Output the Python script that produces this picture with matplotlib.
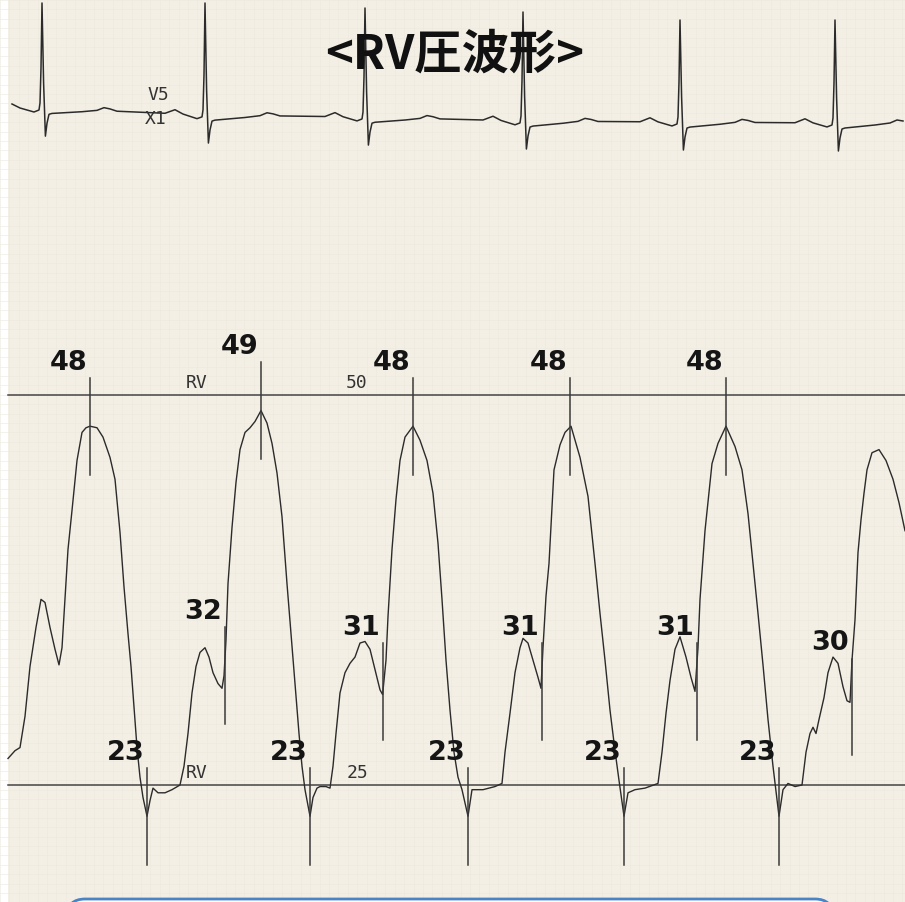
import numpy as np
import matplotlib.pyplot as plt
from matplotlib.patches import Rectangle, FancyBboxPatch
from matplotlib.ticker import MultipleLocator

# RV pressure tracing (time in ms, pressure in mmHg)
rv_t_ms = [40, 75, 100, 125, 150, 180, 205, 225, 250, 275, 295, 310, 325, 340, 360, 385, 410, 430, 450, 485,
           515, 550, 575, 600, 620, 640, 655, 670, 685, 700, 715, 735, 750, 765,
           790, 825, 860, 900, 920, 940, 960, 980, 1000, 1025, 1045, 1065, 1090, 1110, 1120, 1130, 1140, 1160,
           1180, 1200, 1225, 1250, 1275, 1305, 1335, 1360, 1385, 1410, 1435, 1455, 1475, 1495, 1510, 1525,
           1550, 1565, 1585,
           1600, 1630, 1650, 1665, 1680, 1700, 1725, 1750, 1775, 1800, 1825, 1850, 1875, 1900, 1913, 1930,
           1940, 1960, 1980, 2000, 2025, 2065, 2100, 2135, 2165, 2190, 2210, 2230, 2250, 2270, 2290, 2310, 2340,
           2360, 2415, 2475, 2510, 2525, 2550, 2575, 2600, 2615, 2640, 2665, 2690, 2705, 2715, 2730, 2745,
           2770, 2800, 2825, 2855, 2900, 2940, 2975, 3000, 3025, 3050, 3075, 3095, 3120,
           3140, 3175, 3225, 3290, 3310, 3330, 3350, 3375, 3400, 3430, 3455, 3475, 3490, 3500, 3525, 3560,
           3590, 3630, 3675, 3710, 3740, 3765, 3790, 3815, 3840, 3865, 3895,
           3915, 3940, 3975, 4010, 4030, 4050, 4065, 4080, 4095, 4120, 4140, 4165, 4190, 4215, 4235, 4250,
           4260, 4275, 4290, 4305, 4320, 4335, 4360, 4395, 4430, 4465, 4495, 4525]
rv_mmhg = [26.7, 27.2, 27.4, 29.4, 32.6, 35.1, 36.9, 36.7, 35.1, 33.7, 32.7, 33.8, 36.9, 40.1, 42.6, 45.8,
           47.6, 47.9, 48.0, 47.9, 47.3, 46.0, 44.6, 41.2, 37.7, 34.7, 32.6, 30.0, 27.4, 25.5, 24.2, 23.0, 24.0, 24.8,
           24.5, 24.5, 24.7, 25.0, 26.2, 28.3, 30.9, 32.6, 33.5, 33.8, 33.2, 32.2, 31.5, 31.2, 32.0, 34.3, 37.9,
           41.5, 44.4, 46.5, 47.6, 47.9, 48.3, 49.0, 48.2, 46.9, 45.0, 42.2, 37.9, 34.7, 31.5, 28.3, 26.2, 24.7,
           23.0, 24.2, 24.8,
           24.9, 24.9, 24.8, 26.2, 28.3, 30.9, 32.2, 32.8, 33.2, 34.1, 34.2, 33.7, 32.4, 31.1, 30.8, 33.0,
           35.8, 40.1, 43.3, 45.8, 47.3, 48.0, 47.1, 45.8, 43.7, 40.5, 36.9, 33.0, 29.8, 27.1, 25.5, 24.7, 23.0,
           24.7, 24.7, 24.9, 25.1, 27.1, 29.6, 32.2, 33.8, 34.4, 34.1, 33.0, 31.9, 31.2, 33.8, 37.1, 39.2,
           45.2, 46.8, 47.6, 48.0, 46.0, 43.5, 39.2, 36.0, 33.0, 29.8, 27.2, 25.3, 23.0,
           24.5, 24.7, 24.8, 25.1, 27.1, 29.6, 31.7, 33.7, 34.5, 33.2, 31.9, 31.0, 33.8, 36.9, 41.3, 45.6,
           46.9, 48.0, 46.7, 45.2, 42.4, 39.2, 36.0, 32.7, 29.2, 26.2, 23.0,
           24.7, 25.1, 24.9, 25.0, 27.1, 28.3, 28.7, 28.3, 29.2, 30.6, 32.2, 33.2, 32.8, 31.3, 30.4, 30.3,
           33.0, 35.6, 39.9, 42.0, 43.7, 45.2, 46.3, 46.5, 45.8, 44.6, 43.1, 41.3]

# measured points: systolic peak, end-diastolic, minimum
peak_ms = [450, 1305, 2065, 2850, 3630]
peak_mmhg = [48, 49, 48, 48, 48]
edp_ms = [1125, 1915, 2710, 3485, 4260]
edp_mmhg = [32, 31, 31, 31, 30]
min_ms = [735, 1550, 2340, 3120, 3895]
min_mmhg = [23, 23, 23, 23, 23]

scale_mmhg = [50, 25]
scale_label_ms = [985, 1785]

# ECG lead: R wave times, baseline drift and R height
ecg_r_ms = [210, 1025, 1825, 2615, 3400, 4175]
ecg_base_mv = [-0.03, -0.10, -0.12, -0.16, -0.17, -0.18]
ecg_r_mv = [1.05, 1.12, 1.09, 1.09, 1.02, 1.03]
# one PQRST complex, ms from R and mV above baseline (None = R height)
qrs_ms = [-400, -200, -175, -150, -130, -110, -75, -40, -15, -10, -5, 0, 8, 17, 25, 35, 50, 100, 200, 275, 310, 340, 375, 399]
qrs_mv = [0.0, 0.0, 0.02, 0.04, 0.02, 0.0, -0.02, -0.04, -0.02, 0.05, 0.4, None, 0.25, -0.28, -0.15, -0.06, -0.05, -0.04, -0.02, 0.0, 0.03, 0.02, 0.0, 0.0]

ink = "#2b2b2b"
paper = "#f3efe5"

fig = plt.figure(figsize=(9.05, 9.02), dpi=100)
fig.patch.set_facecolor("white")

# paper sheet and faint chart grid
bg = fig.add_axes([0, 0, 1, 1])
bg.set_xlim(0, 905)
bg.set_ylim(902, 0)
bg.add_patch(Rectangle((8, 0), 897, 902, facecolor=paper, edgecolor="none", zorder=0))
bg.xaxis.set_major_locator(MultipleLocator(9.4))
bg.yaxis.set_major_locator(MultipleLocator(9.4))
bg.grid(True, color="#ede9de", lw=0.4, zorder=1)
bg.tick_params(length=0, labelbottom=False, labelleft=False)
for s in bg.spines.values():
    s.set_visible(False)
bg.set_facecolor("white")

# ECG channel
ecg = fig.add_axes([0, 0, 1, 1])
ecg.set_xlim(0, 4525)
ecg.set_ylim(-7.97, 1.05)
ecg.axis("off")
et, ev = [], []
for r, amp in zip(ecg_r_ms, ecg_r_mv):
    for dt, v in zip(qrs_ms, qrs_mv):
        et.append(r + dt)
        ev.append(amp if v is None else v)
et = np.array(et)
ev = np.array(ev)
keep = (et >= 40) & (et <= 4525)
et, ev = et[keep], ev[keep]
ev = ev + np.interp(et, ecg_r_ms, ecg_base_mv)
ecg.plot(et, ev, color=ink, lw=1.1, solid_joinstyle="round")
ecg.text(790, 0.10, "V5", fontsize=13, family="DejaVu Sans Mono", color="#333333", ha="center", va="center")
ecg.text(780, -0.14, "X1", fontsize=13, family="DejaVu Sans Mono", color="#333333", ha="center", va="center")

# RV pressure channel
ax = fig.add_axes([0, 0, 1, 1])
ax.set_xlim(0, 4525)
ax.set_ylim(17.5, 75.32)
ax.axis("off")
ax.plot([40, 4525], [scale_mmhg[0]] * 2, color="#444444", lw=1.1)
ax.plot([40, 4525], [scale_mmhg[1]] * 2, color="#444444", lw=1.1)
for t, lab in zip(scale_label_ms, ["RV", str(scale_mmhg[0])]):
    ax.annotate(lab, (t, scale_mmhg[0]), xytext=(0, 2), textcoords="offset points",
                ha="center", va="bottom", fontsize=13, family="DejaVu Sans Mono", color="#333333")
for t, lab in zip(scale_label_ms, ["RV", str(scale_mmhg[1])]):
    ax.annotate(lab, (t, scale_mmhg[1]), xytext=(0, 2), textcoords="offset points",
                ha="center", va="bottom", fontsize=13, family="DejaVu Sans Mono", color="#333333")

ax.plot(rv_t_ms, rv_mmhg, color=ink, lw=1.0, solid_joinstyle="round")

half = 3.1
for ts, vs in [(peak_ms, peak_mmhg), (edp_ms, edp_mmhg), (min_ms, min_mmhg)]:
    for t, v in zip(ts, vs):
        ax.plot([t, t], [v - half, v + half], color="#3a3a3a", lw=1.1)
        ax.annotate(str(v), (t, v + half), xytext=(-15.5, 11), textcoords="offset points",
                    ha="center", va="center", fontsize=19.5, fontweight="bold",
                    family="DejaVu Sans", color="#151515")

fig.text(0.502, 1 - 55 / 902, "<RV圧波形>", ha="center", va="center", fontsize=34,
         fontweight="bold", family=["Noto Sans CJK JP", "DejaVu Sans"], color="#111111")

# caption box edge along the bottom
fig.add_artist(FancyBboxPatch((67 / 905, -0.05), (833 - 67) / 905, 0.05 + 3 / 902,
                              boxstyle="round,pad=0,rounding_size=0.02",
                              transform=fig.transFigure, facecolor="white",
                              edgecolor="#4a84c4", lw=2))

fig.savefig("out.png", dpi=100)
